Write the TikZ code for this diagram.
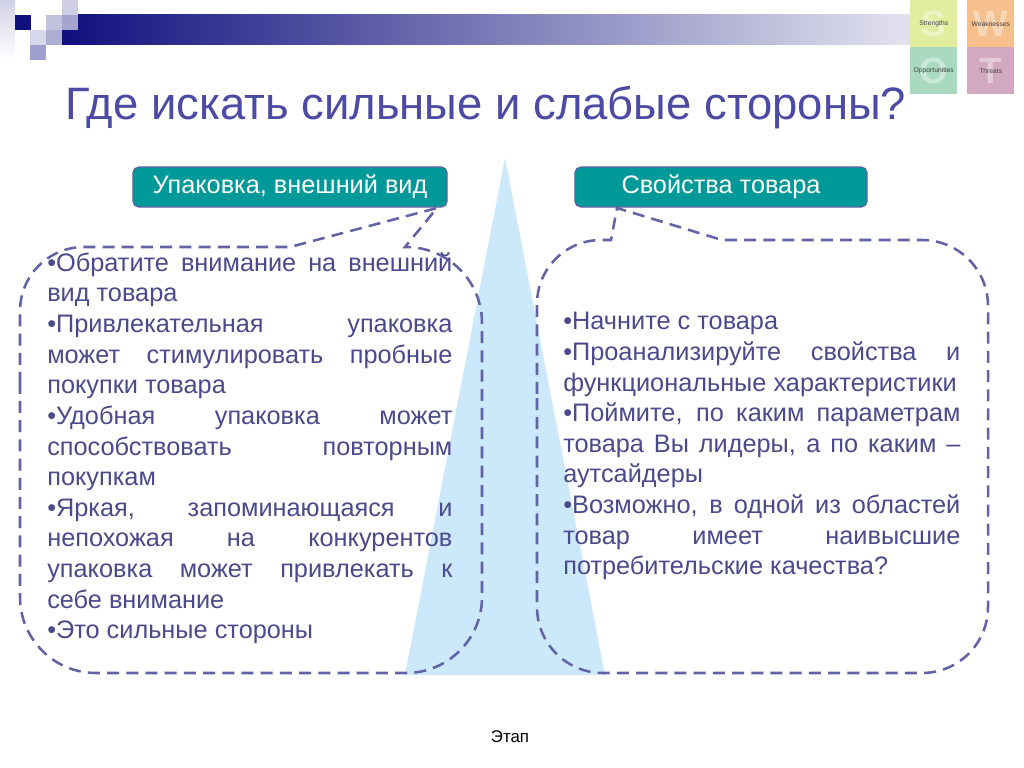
\documentclass[tikz,border=0pt]{standalone}
\usepackage{fontspec}
\setmainfont{Liberation Sans}
\usetikzlibrary{positioning}
\definecolor{titul}{HTML}{4B4BA5}
\definecolor{tekstc}{HTML}{4A4A8C}
\definecolor{shtrih}{HTML}{6262A6}
\definecolor{biryuza}{HTML}{009999}
\definecolor{nebo}{HTML}{CCE9FB}
\definecolor{temno}{HTML}{10107E}
\definecolor{lilo}{HTML}{9A9ACA}
\definecolor{sila}{HTML}{E3EDA0}
\definecolor{slab}{HTML}{F6BF8B}
\definecolor{vozm}{HTML}{A9D9BE}
\definecolor{ugroz}{HTML}{D2A9C1}
\tikzset{
  knopka/.style={draw=shtrih, line width=0.8pt, fill=biryuza, rounded corners=4pt,
    text=white, font=\fontsize{18}{21}\selectfont, minimum height=1cm, inner sep=0pt},
  vynoska/.style={draw=shtrih, line width=1.8pt, dash pattern=on 0.3cm off 0.18cm},
  spisok/.style={text=tekstc, font=\fontsize{18}{21.8}\selectfont, align=justify,
    inner sep=0pt, anchor=north west},
  kvadrat/.style={minimum size=1.175cm, inner sep=0pt, anchor=north west},
  bukva/.style={text=white, opacity=0.4, font=\fontsize{26}{26}\selectfont\bfseries},
  metka/.style={text=black!75, font=\fontsize{4.8}{5}\selectfont}
}
\begin{document}
\begin{tikzpicture}[x=0.025cm, y=-0.025cm]
  \useasboundingbox[fill=white] (0,0) rectangle (1024,768);
  % ornament
  \shade[top color=lilo!45, bottom color=white] (0,0) rectangle (15,60);
  \shade[left color=temno, right color=temno!12] (62,15) rectangle (910,45);
  \foreach \x/\y/\c in {15/15/temno, 46/15/lilo!60, 62/0/lilo!50, 62/15/lilo!90,
      30/30/lilo!40, 46/30/lilo!80, 30/45/lilo!95}
    \fill[\c] (\x,\y) rectangle ++(15.5,15.5);
  % swot
  \node[kvadrat, fill=sila] (s) at (910,0) {};
  \node[kvadrat, fill=slab] (w) at (967,0) {};
  \node[kvadrat, fill=vozm] (o) at (910,47) {};
  \node[kvadrat, fill=ugroz] (t) at (967,47) {};
  \foreach \q/\b/\m in {s/S/Strengths, w/W/Weaknesses, o/O/Opportunities, t/T/Threats} {
    \node[bukva] at (\q.center) {\b};
    \node[metka] at (\q.center) {\m};
  }
  % title
  \node[anchor=base west, text=titul, font=\fontsize{32.3}{36}\selectfont, inner sep=0pt]
    (zag) at (65,120) {Где искать сильные и слабые стороны?};
  % background
  \fill[nebo] (505,158) -- (605,675) -- (405,675) -- cycle;
  % boxes
  \node[knopka, minimum width=7.85cm] (upak) at (290,187) {Упаковка, внешний вид};
  \node[knopka, minimum width=7.3cm] (svoj) at (721,187) {Свойства товара};
  \draw[vynoska] (20,460) [rounded corners=1.6cm] -- (20,247) [sharp corners] -- (290,247)
    -- (437,208) -- (405,247) [rounded corners=1.9cm] -- (482,247) -- (482,673) -- (20,673) -- cycle;
  \draw[vynoska] (537,460) [rounded corners=1.6cm] -- (537,240) [sharp corners] -- (611,240)
    -- (617,208) -- (722,240) [rounded corners=1.65cm] -- (988,240) -- (988,673) -- (537,673) -- cycle;
  % texts
  \node[spisok, text width=10.125cm] (levo) at (47,252) {%
    •Обратите внимание на внешний\linebreak вид товара\par
    •Привлекательная упаковка\linebreak может стимулировать пробные\linebreak покупки товара\par
    •Удобная упаковка может\linebreak способствовать повторным\linebreak покупкам\par
    •Яркая, запоминающаяся и\linebreak непохожая на конкурентов\linebreak упаковка может привлекать к\linebreak себе внимание\par
    •Это сильные стороны};
  \node[spisok, text width=9.925cm] (pravo) at (563,312) {%
    •Начните с товара\par
    •Проанализируйте свойства и\linebreak функциональные характеристики\par
    •Поймите, по каким параметрам\linebreak товара Вы лидеры, а по каким –\linebreak аутсайдеры\par
    •Возможно, в одной из областей\linebreak товар имеет наивысшие\linebreak потребительские качества?};
  \node[font=\fontsize{12}{14}\selectfont, inner sep=0pt] (etap) at (510,737) {Этап};
\end{tikzpicture}
\end{document}
